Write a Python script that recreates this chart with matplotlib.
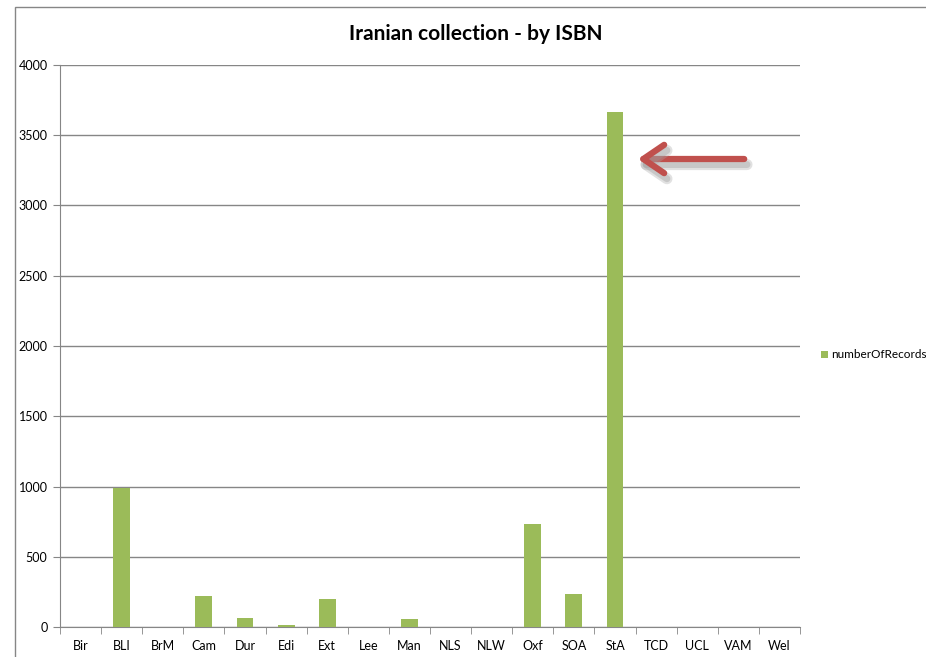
import matplotlib.pyplot as plt
import matplotlib.patheffects as pe
from matplotlib.patches import FancyArrowPatch, Rectangle
import numpy as np

plt.rcParams['font.family'] = ['Lato', 'DejaVu Sans']

# Records per library
libraries = ['Bir', 'BLI', 'BrM', 'Cam', 'Dur', 'Edi', 'Ext', 'Lee', 'Man',
             'NLS', 'NLW', 'Oxf', 'SOA', 'StA', 'TCD', 'UCL', 'VAM', 'Wel']
records = [0, 990, 0, 222, 64, 15, 198, 0, 58,
           3, 0, 735, 236, 3665, 3, 0, 0, 0]

fig = plt.figure(figsize=(9.26, 6.57), dpi=100)
ax = fig.add_axes([60/926, 1-627/657, 740/926, 562/657])

x = np.arange(len(libraries))
ax.bar(x, records, width=0.41, color='#9BBB59', label='numberOfRecords', zorder=3)

ax.set_xlim(-0.5, len(libraries) - 0.5)
ax.set_ylim(0, 4000)
ax.set_yticks(range(0, 4001, 500))
ax.set_xticks(x)
ax.set_xticklabels(libraries)
ax.set_xticks(np.arange(-0.5, len(libraries), 1), minor=True)
ax.tick_params(axis='x', which='major', length=0, pad=9, labelsize=9)
ax.tick_params(axis='x', which='minor', length=5, color='#868686', direction='out')
ax.tick_params(axis='y', length=5, color='#868686', labelsize=9, pad=4)

ax.grid(axis='y', color='#868686', linewidth=1, zorder=0)
for side in ['top', 'right']:
    ax.spines[side].set_visible(False)
for side in ['left', 'bottom']:
    ax.spines[side].set_color('#868686')

fig.text(476/926, 1-34/657, 'Iranian collection - by ISBN', ha='center', va='center',
         fontsize=15, fontweight='bold')

fig.legend(loc='center left', bbox_to_anchor=(821/926, 1-355/657), frameon=False,
           handlelength=0.6, handleheight=0.6, handletextpad=0.25, fontsize=8.5,
           borderaxespad=0, borderpad=0)

# red arrow pointing at StA, with a soft drop shadow
arrow = FancyArrowPatch((747/926, 1-159/657), (635/926, 1-159/657),
                        transform=fig.transFigure,
                        arrowstyle='->,head_length=5,head_width=3.4',
                        color='#C0504D', linewidth=4.5, mutation_scale=3,
                        capstyle='round', joinstyle='round',
                        path_effects=[pe.SimpleLineShadow(offset=(2, -4), shadow_color='#aaaaaa',
                                                          alpha=0.35, linewidth=8),
                                      pe.SimpleLineShadow(offset=(2, -4), shadow_color='#999999',
                                                          alpha=0.35, linewidth=5),
                                      pe.Normal()])
fig.patches.append(arrow)

# outer chart border
fig.patches.append(Rectangle((15/926, -0.1), 1.2, 1 - 7/657 + 0.1,
                             transform=fig.transFigure, fill=False,
                             edgecolor='#868686', linewidth=1))

fig.savefig('out.png', dpi=100)
